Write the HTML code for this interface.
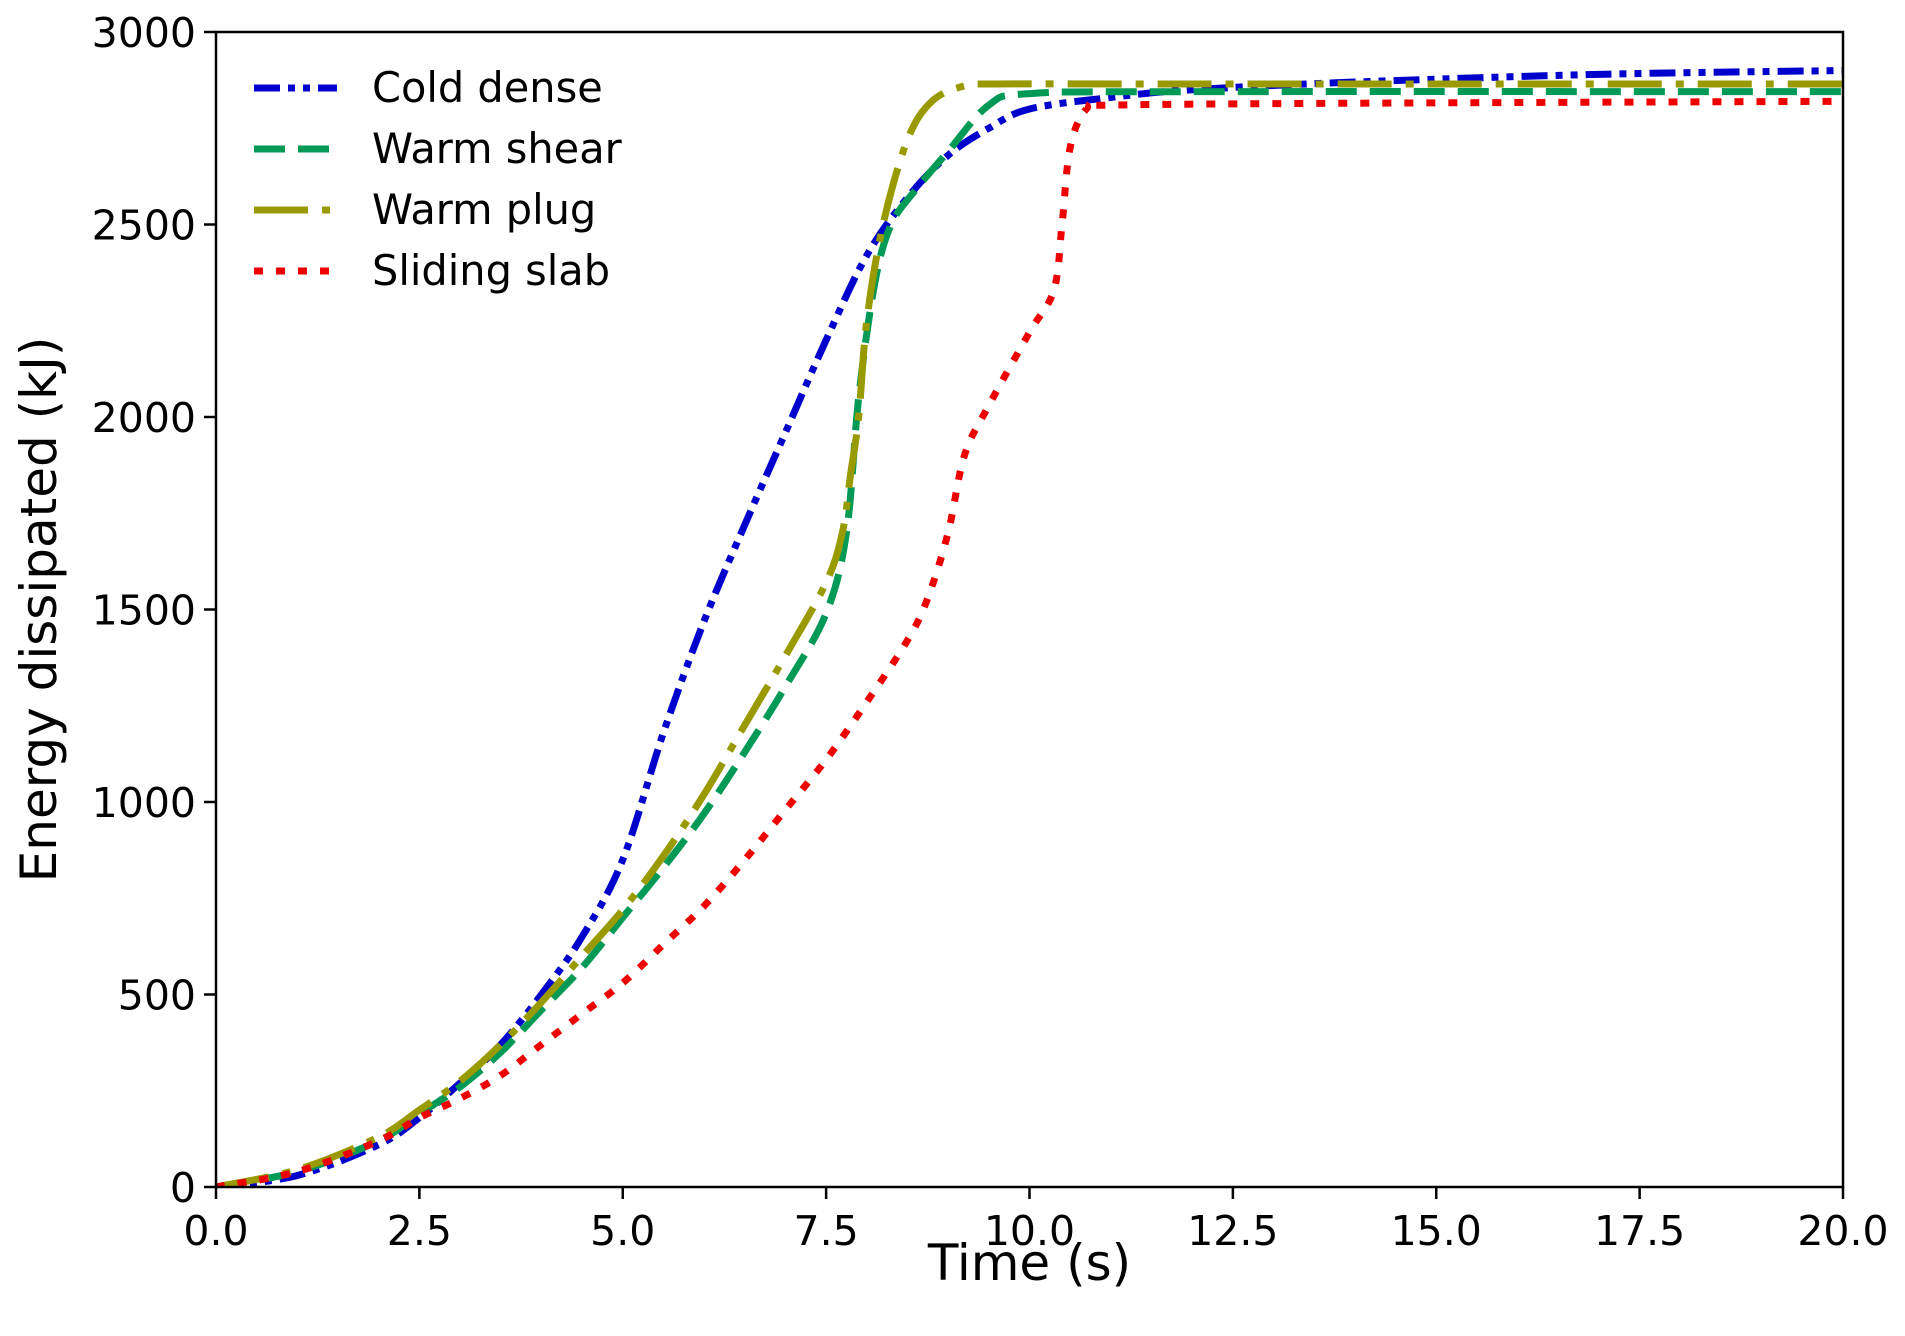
<!DOCTYPE html>
<html><head><meta charset="utf-8"><style>
html,body{margin:0;padding:0;background:#fff;}
svg{display:block;font-family:"DejaVu Sans","Liberation Sans",sans-serif;}
</style></head><body>
<svg id="chart" width="1905" height="1336" viewBox="0 0 1905 1336"></svg>
<script>
const xTicks = [0, 2.5, 5, 7.5, 10, 12.5, 15, 17.5, 20];
const xTickLabels = ["0.0","2.5","5.0","7.5","10.0","12.5","15.0","17.5","20.0"];
const yTicks = [0, 500, 1000, 1500, 2000, 2500, 3000];
const yTickLabels = ["0","500","1000","1500","2000","2500","3000"];
const seriesNames = ["Cold dense","Warm shear","Warm plug","Sliding slab"];
const coldT = [0,1,2,2.5,3,3.5,4,4.5,5,5.5,6,6.5,7,7.5,8,8.5,9,9.5,10,11,12,14,17,20];
const coldV = [0,30,110,180,270,370,500,650,850,1180,1470,1720,1960,2200,2420,2570,2680,2750,2800,2830,2850,2870,2890,2900];
const shearT = [0,1,2,2.5,3,3.5,4,4.5,5,5.5,6,6.5,7,7.5,7.75,7.9,8.1,8.3,8.6,9,9.5,10,12,20];
const shearV = [0,40,120,190,260,350,460,570,700,830,970,1130,1300,1490,1700,2050,2350,2500,2590,2690,2810,2840,2845,2845];
const plugT = [0,1,2,2.5,3,3.5,4,4.5,5,5.5,6,6.5,7,7.5,7.7,7.8,7.9,8,8.2,8.5,8.8,9.2,9.6,12,20];
const plugV = [0,45,130,200,275,370,480,600,720,860,1020,1200,1380,1570,1700,1850,2000,2250,2500,2720,2820,2860,2865,2865,2865];
const slabT = [0,1,2,2.5,3,3.5,4,4.5,5,5.5,6,6.5,7,7.5,8,8.5,8.75,9,9.2,9.5,10,10.3,10.4,10.5,10.7,11,14,20];
const slabV = [0,40,120,180,230,290,370,450,530,630,730,850,980,1110,1260,1420,1530,1700,1900,2030,2220,2330,2500,2700,2800,2810,2815,2820];

const NS="http://www.w3.org/2000/svg";
const svg=document.getElementById('chart');
const L=216,R=1843,T=32,B=1187;
const xs=t=>L+(t/20)*(R-L);
const ys=v=>B-(v/3000)*(B-T);
function mk(tag,attrs,parent){const e=document.createElementNS(NS,tag);for(const k in attrs)e.setAttribute(k,attrs[k]);(parent||svg).appendChild(e);return e;}

const styles=[
 {color:"#0000cc",dash:"26 8 7 8 7 8"},
 {color:"#009955",dash:"31 13"},
 {color:"#999900",dash:"54 14 8 14"},
 {color:"#ee0000",dash:"9 13"}
];
const data=[[coldT,coldV],[shearT,shearV],[plugT,plugV],[slabT,slabV]];
function pathFor(T_,V_){
  const p=T_.map((t,i)=>[xs(t),ys(V_[i])]);
  let d="M"+p[0][0]+","+p[0][1];
  for(let i=0;i<p.length-1;i++){
    const p0=p[Math.max(0,i-1)],p1=p[i],p2=p[i+1],p3=p[Math.min(p.length-1,i+2)];
    const c1=[p1[0]+(p2[0]-p0[0])/6,p1[1]+(p2[1]-p0[1])/6];
    const c2=[p2[0]-(p3[0]-p1[0])/6,p2[1]-(p3[1]-p1[1])/6];
    d+=" C"+c1[0]+","+c1[1]+" "+c2[0]+","+c2[1]+" "+p2[0]+","+p2[1];
  }
  return d;
}
const names=["series-cold-dense","series-warm-shear","series-warm-plug","series-sliding-slab"];
const clip=mk('clipPath',{id:'plotclip'});mk('rect',{x:L,y:T-10,width:R-L,height:B-T+10},clip);
data.forEach((d,i)=>{
  const p=mk('path',{d:pathFor(d[0],d[1]),fill:"none",stroke:styles[i].color,"stroke-width":7,"stroke-dasharray":styles[i].dash,"clip-path":"url(#plotclip)"});
  
  
});
const frame=mk('rect',{x:L,y:T,width:R-L,height:B-T,fill:"none",stroke:"#000","stroke-width":2.5});


xTicks.forEach((t,i)=>{
  const tk=mk('line',{x1:xs(t),x2:xs(t),y1:B,y2:B+12,stroke:"#000","stroke-width":2.5});
  
  
  const tx=mk('text',{x:xs(t),y:B+58,"text-anchor":"middle","font-size":41,fill:"#000"});
  tx.textContent=xTickLabels[i];
  
  
});
yTicks.forEach((v,i)=>{
  const tk=mk('line',{x1:L-12,x2:L,y1:ys(v),y2:ys(v),stroke:"#000","stroke-width":2.5});
  
  
  const tx=mk('text',{x:L-20,y:ys(v)+15,"text-anchor":"end","font-size":41,fill:"#000"});
  tx.textContent=yTickLabels[i];
  
  
});
const xl=mk('text',{x:(L+R)/2,y:1280,"text-anchor":"middle","font-size":50,fill:"#000"});
xl.textContent="Time (s)";


const yl=mk('text',{x:0,y:0,"text-anchor":"middle","font-size":50,fill:"#000",transform:"translate(56,"+((T+B)/2)+") rotate(-90)"});
yl.textContent="Energy dissipated (kJ)";


const legY=[88,149,210,271];
seriesNames.forEach((n,i)=>{
  const g=mk('g',{});
  
  
  mk('line',{x1:254,x2:337,y1:legY[i],y2:legY[i],stroke:styles[i].color,"stroke-width":7,"stroke-dasharray":styles[i].dash},g);
  const t=mk('text',{x:372,y:legY[i]+14,"font-size":41.5,fill:"#000"},g);
  t.textContent=n;
});
</script>
</body></html>
